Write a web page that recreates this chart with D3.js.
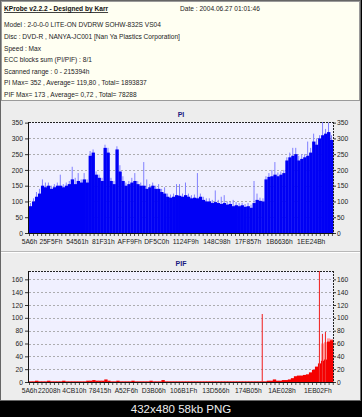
<!DOCTYPE html>
<html><head><meta charset="utf-8">
<script src="https://cdn.jsdelivr.net/npm/d3@7"></script>
<style>body{margin:0;background:#000;} svg{display:block}</style>
</head><body><svg id="c" width="362" height="417"></svg>
<script>
const headerTitle = "KProbe v2.2.2 - Designed by Karr";
const headerDate = "Date : 2004.06.27 01:01:46";
const headerLines = [
  "Model : 2-0-0-0 LITE-ON DVDRW SOHW-832S  VS04",
  "Disc : DVD-R , NANYA-JC001  [Nan Ya Plastics Corporation]",
  "Speed : Max",
  "ECC blocks sum (PI/PIF) : 8/1",
  "Scanned range : 0 - 215394h",
  "PI Max= 352 , Average= 119,80 , Total= 1893837",
  "PIF Max= 173 , Average= 0,72 , Total= 78288"
];
const footerText = "432x480 58kb PNG";

// PI chart
const piValues = [
  85,100,115,125,150,145,150,140,145,150,
  150,145,150,155,170,155,165,160,170,160,
  245,255,185,175,165,270,255,165,155,265,
  195,165,150,155,160,165,155,150,150,140,
  145,150,140,140,130,125,115,112,115,120,
  118,115,120,115,110,112,110,115,105,100,
  100,95,98,95,92,95,90,92,85,88,
  85,88,83,85,80,95,105,102,100,170,
  178,180,185,180,185,190,230,240,245,250,
  230,235,240,245,255,290,280,300,310,315,
  320,295
];
const piPeaks = [
  95,110,130,140,170,160,160,150,155,160,
  185,155,160,165,210,175,190,170,190,170,
  260,265,195,185,175,280,270,175,165,275,
  215,180,160,165,175,190,165,160,225,170,
  155,160,150,155,140,145,125,122,125,155,
  155,125,160,125,120,122,190,125,115,110,
  110,105,135,105,115,120,100,100,105,98,
  95,96,92,95,90,165,125,112,110,180,
  190,200,225,192,195,200,240,255,270,270,
  245,250,250,290,270,315,300,310,352,330,
  350,310
];
const piTickLabels = ["5A6h","25F5Fh","54561h","81F31h","AFF9Fh","DF5C0h","1124F9h","148C98h","17F857h","1B6636h","1EE24Bh"];
const piYTicks = [0,50,100,150,200,250,300,350];
const piYMax = 352;
const piLbaRange = [0x5A6, 0x215394];

// PIF chart
const pifValues = [
  1,1,2,1,1,1,2,1,1,1,
  1,2,1,1,1,1,1,1,1,2,
  2,3,2,2,2,4,2,1,1,2,
  1,1,1,1,2,1,1,1,1,1,
  2,1,1,1,3,1,1,1,1,1,
  1,1,1,1,1,1,1,1,1,1,
  1,1,1,1,1,1,1,1,1,1,
  1,1,1,1,1,1,1,1,1,2,
  2,4,2,2,3,3,4,6,9,10,
  10,11,12,15,19,24,29,33,35,63,
  65
];
const pifPeaks = [{bin:97, v:60},{bin:98, v:62},{bin:99, v:68},{bin:100, v:67}];
const pifSpikes = [{bin:77, v:106},{bin:96, v:173},{bin:97, v:75},{bin:98, v:78}];
const pifTickLabels = ["5A6h","22008h","4CB10h","78415h","A52F6h","D3B06h","106B1Fh","13D566h","174B05h","1AE028h","1EB02Fh"];
const pifYTicks = [0,20,40,60,80,100,120,140,160];
const pifYMax = 173;
const pifLbaRange = [0x5A6, 2120000];

const FONT = "'Liberation Sans', Arial, sans-serif";
const svg = d3.select("#c");

// backgrounds
svg.append("rect").attr("x",0).attr("y",0).attr("width",362).attr("height",417).attr("fill","#000");
svg.append("rect").attr("x",0).attr("y",0).attr("width",361).attr("height",400).attr("fill","#ededed");
svg.append("rect").attr("x",0.5).attr("y",0.5).attr("width",360).attr("height",400).attr("fill","none").attr("stroke","#666");
// header box
svg.append("rect").attr("x",1.5).attr("y",1.5).attr("width",358).attr("height",99).attr("fill","#fffff2").attr("stroke","#9a9a9a");
// separator between panels
svg.append("line").attr("x1",1).attr("x2",360).attr("y1",251.5).attr("y2",251.5).attr("stroke","#b8b8b8");
svg.append("line").attr("x1",1).attr("x2",360).attr("y1",252.5).attr("y2",252.5).attr("stroke","#fff");

// header text
const tt = svg.append("text").attr("x",4).attr("y",10.5).attr("font-family",FONT).attr("font-size",6.6)
  .attr("font-weight","bold").attr("fill","#111").text(headerTitle);
const tw = tt.node().getComputedTextLength();
svg.append("line").attr("x1",4).attr("x2",4+tw).attr("y1",12.5).attr("y2",12.5).attr("stroke","#111").attr("stroke-width",0.8);
svg.append("text").attr("x",180).attr("y",10.5).attr("font-family",FONT).attr("font-size",6.6).attr("fill","#222").text(headerDate);
headerLines.forEach((t,i)=>{
  svg.append("text").attr("x",4).attr("y",27.3+i*11.6).attr("font-family",FONT).attr("font-size",6.6).attr("fill","#222").text(t);
});

// footer
svg.append("text").attr("x",181).attr("y",413).attr("text-anchor","middle").attr("font-family",FONT)
  .attr("font-size",11.5).attr("fill","#eee").text(footerText);

function drawPanel(cfg){
  const L=29, R=333, T=cfg.top, B=cfg.bottom;
  const g = svg.append("g");
  const y = d3.scaleLinear().domain([0,cfg.yMax]).range([B,T]);
  const xl = d3.scaleLinear().domain(cfg.lba).range([L,R]);
  const xb = d3.scaleLinear().domain([0,cfg.values.length]).range([L,R]);

  g.append("text").attr("x",181).attr("y",T-5).attr("text-anchor","middle").attr("font-family",FONT)
    .attr("font-size",7).attr("font-weight","bold").attr("fill","#1a1a80").text(cfg.title);

  g.append("rect").attr("x",L).attr("y",T).attr("width",R-L).attr("height",B-T).attr("fill","#f0f0ff");
  // grid
  g.selectAll(".grid").data(cfg.yTicks.filter(d=>d>0 && y(d)>T+1)).join("line")
    .attr("x1",L).attr("x2",R).attr("y1",d=>Math.round(y(d))+0.5).attr("y2",d=>Math.round(y(d))+0.5)
    .attr("stroke","#9a9a9a").attr("stroke-dasharray","2,2").attr("stroke-width",0.8);

  // peaks (lighter)
  if(cfg.peaks){
    g.selectAll(".pk").data(cfg.peaks).join("line")
      .attr("x1",(d,i)=>xb(i+0.5)).attr("x2",(d,i)=>xb(i+0.5))
      .attr("y1",y(0)).attr("y2",d=>y(d)).attr("stroke",cfg.peakColor).attr("stroke-width",1);
  }
  if(cfg.widePeaks){
    g.selectAll(".wpk").data(cfg.widePeaks).join("rect")
      .attr("x",d=>xb(d.bin)).attr("width",d=>xb(d.bin+1)-xb(d.bin)+0.3)
      .attr("y",d=>y(d.v)).attr("height",d=>y(0)-y(d.v)).attr("fill",cfg.peakColor);
  }
  // bars
  g.selectAll(".bar").data(cfg.values).join("rect")
    .attr("x",(d,i)=>xb(i)).attr("width",(d,i)=>xb(i+1)-xb(i)+0.35)
    .attr("y",d=>y(d)).attr("height",d=>y(0)-y(d)).attr("fill",cfg.color);
  if(cfg.spikes){
    g.selectAll(".sp").data(cfg.spikes).join("line")
      .attr("x1",d=>xb(d.bin+0.5)).attr("x2",d=>xb(d.bin+0.5))
      .attr("y1",y(0)).attr("y2",d=>y(d.v)).attr("stroke",cfg.spikeColor).attr("stroke-width",1.1);
  }

  // borders
  g.append("line").attr("x1",L).attr("x2",R).attr("y1",T+0.5).attr("y2",T+0.5).attr("stroke","#222").attr("stroke-dasharray","2,1");
  g.append("line").attr("x1",R+0.5).attr("x2",R+0.5).attr("y1",T).attr("y2",B).attr("stroke","#222").attr("stroke-dasharray","2,1");
  g.append("line").attr("x1",L-0.5).attr("x2",L-0.5).attr("y1",T).attr("y2",B+0.5).attr("stroke","#111");
  g.append("line").attr("x1",L-1).attr("x2",R+1).attr("y1",B+0.5).attr("y2",B+0.5).attr("stroke","#111");

  // axes
  const ya = d3.axisLeft(y).tickValues(cfg.yTicks).tickSize(3).tickPadding(2);
  const yr = d3.axisRight(y).tickValues(cfg.yTicks).tickSize(2).tickPadding(1);
  const ax1 = g.append("g").attr("transform",`translate(${L-1},0)`).call(ya);
  const ax2 = g.append("g").attr("transform",`translate(${R+1},0)`).call(yr);
  const xa = d3.axisBottom(xl).tickValues(cfg.xLabels.map(s=>parseInt(s,16))).tickFormat((d,i)=>cfg.xLabels[i]).tickSize(0).tickPadding(5);
  const ax3 = g.append("g").attr("transform",`translate(0,${B+1})`).call(xa);
  const minor = d3.axisBottom(xl).tickValues(d3.range(cfg.lba[0], cfg.lba[1], 29000)).tickFormat("").tickSize(2);
  const ax4 = g.append("g").attr("transform",`translate(0,${B+1})`).call(minor);
  [ax1,ax2,ax3,ax4].forEach(a=>{
    a.select(".domain").remove();
    a.selectAll("line").attr("stroke","#333");
    a.selectAll("text").attr("font-family",FONT).attr("font-size",6.7).attr("fill","#222");
  });
  ax4.selectAll("line").attr("stroke","#555");
}

drawPanel({title:"PI", top:122, bottom:233, yMax:piYMax, yTicks:piYTicks, lba:piLbaRange,
  values:piValues, peaks:piPeaks, color:"#0000f5", peakColor:"#8080ff", xLabels:piTickLabels});
drawPanel({title:"PIF", top:271, bottom:382, yMax:pifYMax, yTicks:pifYTicks, lba:pifLbaRange,
  values:pifValues, widePeaks:pifPeaks, spikes:pifSpikes, color:"#f50000", peakColor:"#ff9a9a", spikeColor:"#f03030", xLabels:pifTickLabels});
</script></body></html>
